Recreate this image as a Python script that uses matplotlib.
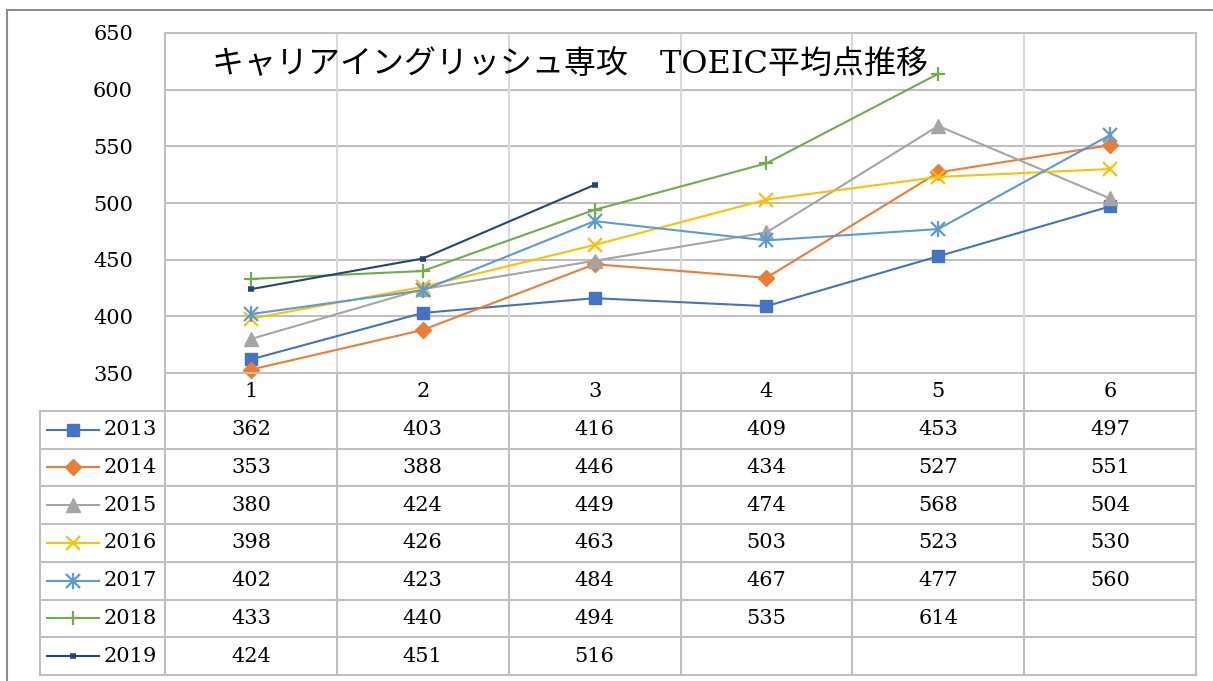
import matplotlib
matplotlib.use("Agg")
import matplotlib.pyplot as plt
from matplotlib.lines import Line2D

W, H = 1213, 681
categories = ["1", "2", "3", "4", "5", "6"]
series_names = ["2013", "2014", "2015", "2016", "2017", "2018", "2019"]
s2013 = [362, 403, 416, 409, 453, 497]
s2014 = [353, 388, 446, 434, 527, 551]
s2015 = [380, 424, 449, 474, 568, 504]
s2016 = [398, 426, 463, 503, 523, 530]
s2017 = [402, 423, 484, 467, 477, 560]
s2018 = [433, 440, 494, 535, 614]
s2019 = [424, 451, 516]
series_values = [s2013, s2014, s2015, s2016, s2017, s2018, s2019]
y_ticks = [350, 400, 450, 500, 550, 600, 650]
title = "キャリアイングリッシュ専攻　TOEIC平均点推移"

colors = ["#4472C4", "#ED7D31", "#A5A5A5", "#FFC000", "#5B9BD5", "#70AD47", "#264478"]
SERIF = "DejaVu Serif"
FS = 15

fig = plt.figure(figsize=(W / 100, H / 100), dpi=100)

def px(x0, y0, x1, y1):
    return [x0 / W, 1 - y1 / H, (x1 - x0) / W, (y1 - y0) / H]

# plot area
L, R, T, B = 165, 1196, 33, 373
ax = fig.add_axes(px(L, T, R, B))
ax.set_xlim(0.5, 6.5)
ax.set_ylim(350, 650)
ax.set_yticks(y_ticks)
ax.set_yticklabels([str(v) for v in y_ticks], fontsize=FS, family=SERIF)
ax.set_xticks([])
ax.tick_params(axis="y", length=0, pad=23)
for sp in ax.spines.values():
    sp.set_color("#bfbfbf")
    sp.set_linewidth(1.5)
for yv in y_ticks[1:-1]:
    ax.axhline(yv, color="#bfbfbf", lw=1.5, zorder=0)
for i in range(1, len(categories)):
    ax.axvline(i + 0.5, color="#d9d9d9", lw=1.5, zorder=0)

def draw_series(a, xs, ys, i, ms_scale=1.0):
    c = colors[i]
    kw = dict(color=c, lw=1.5, clip_on=False)
    if i == 0:
        a.plot(xs, ys, marker="s", ms=9 * ms_scale, mfc=c, mec=c, **kw)
    elif i == 1:
        a.plot(xs, ys, marker="D", ms=8.5 * ms_scale, mfc=c, mec=c, **kw)
    elif i == 2:
        a.plot(xs, ys, marker="^", ms=10 * ms_scale, mfc=c, mec=c, **kw)
    elif i == 3:
        a.plot(xs, ys, marker="x", ms=10 * ms_scale, mew=1.6, **kw)
    elif i == 4:
        a.plot(xs, ys, marker="x", ms=10 * ms_scale, mew=1.6, **kw)
        a.plot(xs, ys, marker="|", ms=12 * ms_scale, mew=1.6, ls="none", color=c, clip_on=False)
    elif i == 5:
        a.plot(xs, ys, marker="+", ms=10 * ms_scale, mew=1.6, **kw)
    elif i == 6:
        a.plot(xs, ys, marker="_", ms=5 * ms_scale, mew=4, **kw)

for i, vals in enumerate(series_values):
    xs = list(range(1, len(vals) + 1))
    draw_series(ax, xs, vals, i)

fig.text(212 / W, 1 - 65 / H, title, fontsize=23, va="center", ha="left",
         family=[SERIF, "Noto Sans CJK JP"], color="#000000")

# data table
TB = 675
tax = fig.add_axes(px(40, B, R, TB))
ppu = (R - L) / 6.0
left_u = 0.5 - (L - 40) / ppu
tax.set_xlim(left_u, 6.5)
nrows = len(series_names) + 1
tax.set_ylim(nrows, 0)
tax.axis("off")
gc = "#bfbfbf"
for r in range(1, nrows + 1):
    tax.plot([left_u, 6.5], [r, r], color=gc, lw=1.5, clip_on=False)
tax.plot([left_u, left_u], [1, nrows], color=gc, lw=1.5, clip_on=False)
for k in range(len(categories) + 1):
    tax.plot([k + 0.5, k + 0.5], [0, nrows], color=gc, lw=1.5, clip_on=False)
for k, c in enumerate(categories):
    tax.text(k + 1, 0.5, c, ha="center", va="center", fontsize=FS, family=SERIF)
for i, (name, vals) in enumerate(zip(series_names, series_values)):
    yc = i + 1.5
    for k, v in enumerate(vals):
        tax.text(k + 1, yc, str(v), ha="center", va="center", fontsize=FS, family=SERIF)
    x0 = 0.5 - (L - 47) / ppu
    x1 = 0.5 - (L - 99) / ppu
    xm = 0.5 - (L - 73) / ppu
    tax.plot([x0, x1], [yc, yc], color=colors[i], lw=1.5, clip_on=False)
    draw_series(tax, [xm], [yc], i)
    tax.text(0.5 - (L - 104) / ppu, yc, name, ha="left", va="center", fontsize=FS, family=SERIF)

# outer frame (extends beyond image on right/bottom)
fig.add_artist(Line2D([7 / W, 7 / W], [0, 1 - 10 / H], transform=fig.transFigure, color="#8c8c8c", lw=1.5))
fig.add_artist(Line2D([7 / W, 1], [1 - 10 / H, 1 - 10 / H], transform=fig.transFigure, color="#8c8c8c", lw=1.5))

fig.savefig("out.png", dpi=100)
